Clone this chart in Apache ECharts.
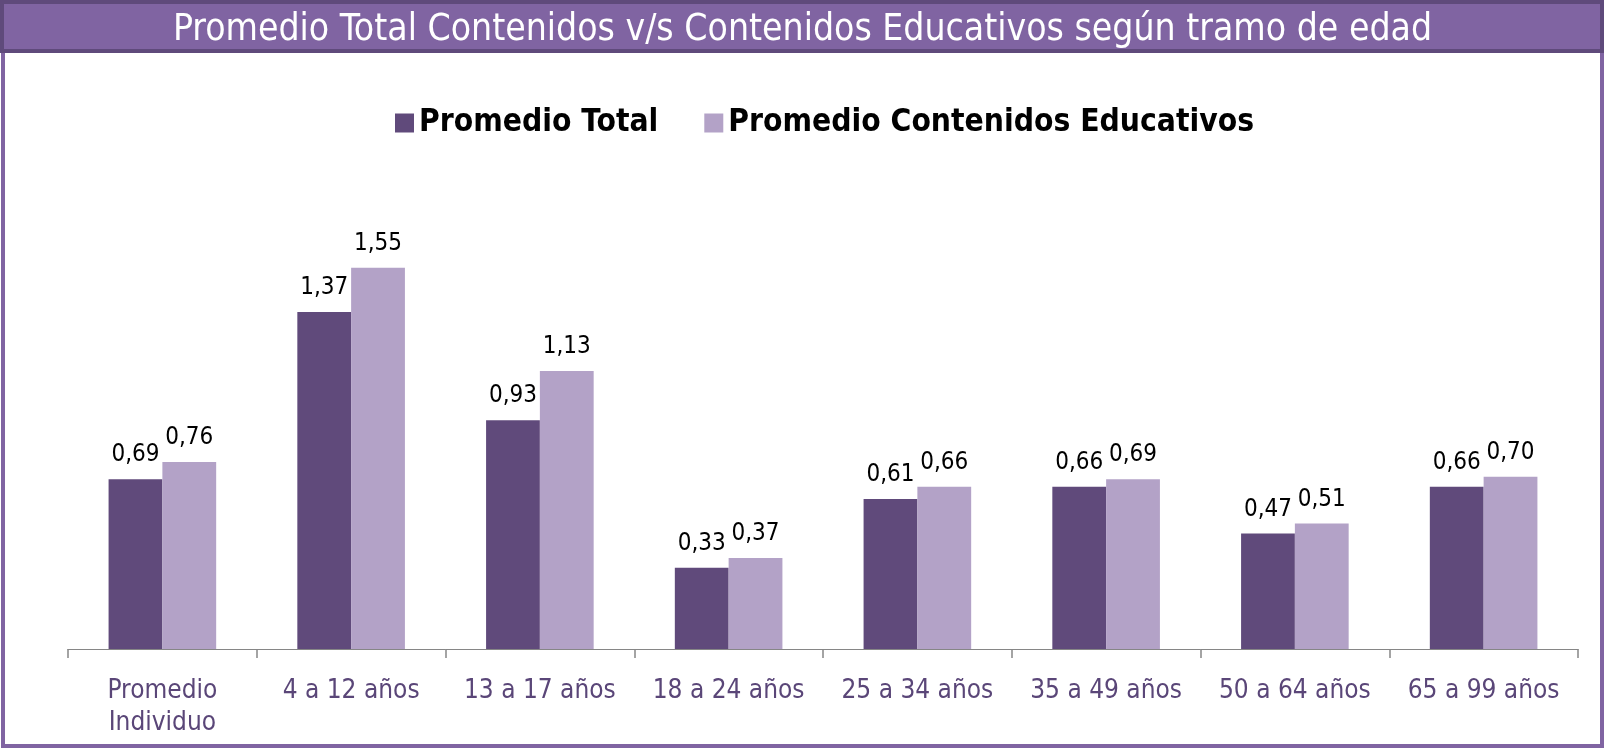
<!DOCTYPE html>
<html>
<head>
<meta charset="utf-8">
<script src="https://cdn.jsdelivr.net/npm/echarts@6/dist/echarts.min.js"></script>
<style>
  html, body { margin: 0; padding: 0; background: #fff; }
  #chart { width: 1605px; height: 751px; }
</style>
</head>
<body>
<div id="chart"></div>
<script>
// categories and values
const categories = [
  "Promedio\nIndividuo", "4 a 12 años", "13 a 17 años", "18 a 24 años",
  "25 a 34 años", "35 a 49 años", "50 a 64 años", "65 a 99 años"
];
const promedioTotal = [0.69, 1.37, 0.93, 0.33, 0.61, 0.66, 0.47, 0.66];
const promedioEducativos = [0.76, 1.55, 1.13, 0.37, 0.66, 0.69, 0.51, 0.70];

const colors = ["#604a7b", "#b3a2c7"];
const FONT = "'DejaVu Sans Condensed', 'DejaVu Sans', sans-serif";

const chart = echarts.init(document.getElementById("chart"));

const labelFmt = function (p) {
  return p.value.toFixed(2).replace(".", ",");
};

const barLabel = {
  show: true,
  position: "top",
  distance: 12,
  formatter: labelFmt,
  color: "#000",
  fontFamily: FONT,
  fontSize: 24,
};

const option = {
  animation: false,
  color: colors,
  graphic: [
    {
      type: "rect",
      z: 0,
      shape: { x: 3, y: 3, width: 1599, height: 743 },
      style: { fill: "#fff", stroke: "#8064a2", lineWidth: 4 },
    },
    {
      type: "rect",
      z: 1,
      shape: { x: 2, y: 2, width: 1600, height: 49 },
      style: { fill: "#8064a2", stroke: "#5f4a7b", lineWidth: 4 },
    },
  ],
  title: {
    text: "Promedio Total Contenidos v/s Contenidos Educativos según tramo de edad",
    left: "center",
    top: 7,
    z: 10,
    textStyle: {
      color: "#fff",
      fontFamily: FONT,
      fontWeight: "normal",
      fontSize: 37,
    },
  },
  legend: {
    data: ["Promedio Total", "Promedio Contenidos Educativos"],
    left: 390,
    top: 102,
    itemWidth: 19,
    itemHeight: 19,
    itemGap: 46,
    icon: "rect",
    textStyle: {
      color: "#000",
      fontFamily: FONT,
      fontWeight: "bold",
      fontSize: 31.5,
    },
  },
  grid: {
    left: 68,
    right: 27,
    top: 157,
    bottom: 102,
    containLabel: false,
  },
  xAxis: {
    type: "category",
    data: categories,
    axisLine: { lineStyle: { color: "#868686", width: 1 } },
    axisTick: { show: true, length: 9, lineStyle: { color: "#868686", width: 1.5 } },
    axisLabel: {
      color: "#5a4678",
      fontFamily: FONT,
      fontSize: 26,
      margin: 26,
      lineHeight: 32,
      interval: 0,
    },
  },
  yAxis: {
    type: "value",
    min: 0,
    max: 2,
    show: false,
    splitLine: { show: false },
  },
  series: [
    {
      name: "Promedio Total",
      type: "bar",
      data: promedioTotal,
      barGap: 0,
      barCategoryGap: "43%",
      label: barLabel,
    },
    {
      name: "Promedio Contenidos Educativos",
      type: "bar",
      data: promedioEducativos,
      barGap: 0,
      barCategoryGap: "43%",
      label: barLabel,
    },
  ],
};

chart.setOption(option);
</script>
</body>
</html>
